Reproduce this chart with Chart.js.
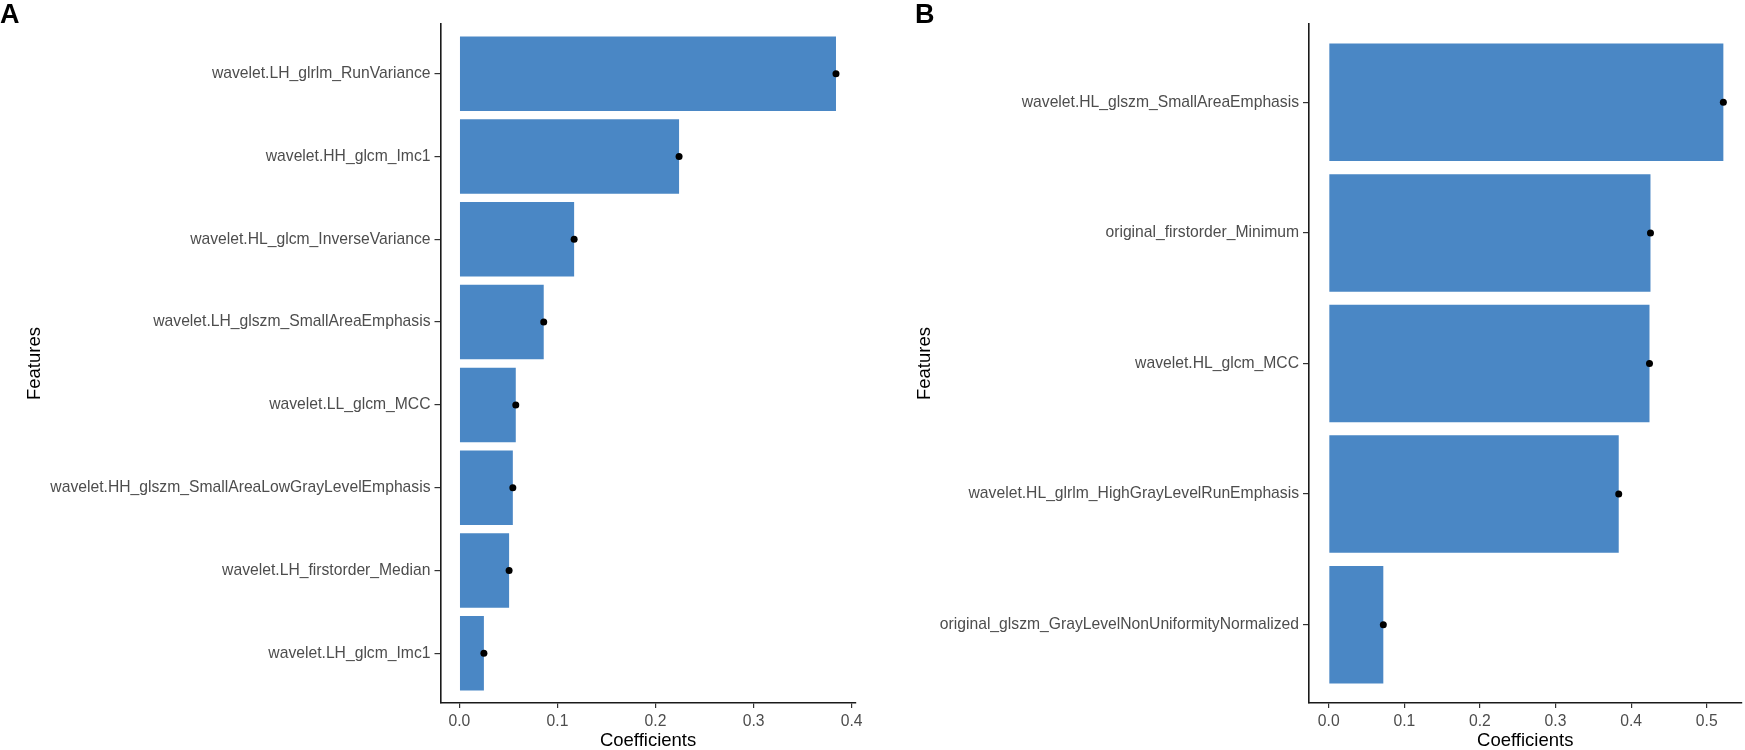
<!DOCTYPE html>
<html>
<head>
<meta charset="utf-8">
<script src="https://cdn.jsdelivr.net/npm/chart.js@4.4.1/dist/chart.umd.min.js"></script>
<style>
  html, body { margin: 0; padding: 0; background: #fff; overflow: hidden; }
  .painel { position: absolute; top: 0; }
  .letra {
    position: absolute;
    top: 1px;
    font: bold 27px "Liberation Sans", Arial, sans-serif;
    line-height: 1;
    color: #000;
  }
</style>
</head>
<body>
<canvas id="grafico-a" class="painel" width="880" height="750" style="left:0px"></canvas>
<canvas id="grafico-b" class="painel" width="855" height="750" style="left:890px"></canvas>
<div class="letra" style="left:0px">A</div>
<div class="letra" style="left:915px">B</div>
<script>
// Two panels of LASSO-style coefficients: bar + black point at the same value.

const FONTE = '"Liberation Sans", Arial, sans-serif';
const COR_BARRA = "#4A87C5";
const COR_TEXTO_EIXO = "#4D4D4D";

// ============================================================
// PAINEL A
// ============================================================
const featuresA = [
  "wavelet.LH_glrlm_RunVariance",
  "wavelet.HH_glcm_Imc1",
  "wavelet.HL_glcm_InverseVariance",
  "wavelet.LH_glszm_SmallAreaEmphasis",
  "wavelet.LL_glcm_MCC",
  "wavelet.HH_glszm_SmallAreaLowGrayLevelEmphasis",
  "wavelet.LH_firstorder_Median",
  "wavelet.LH_glcm_Imc1",
];
const coefA = [0.384, 0.224, 0.117, 0.086, 0.0575, 0.0545, 0.0507, 0.025];
const ticksA = [0, 0.1, 0.2, 0.3, 0.4];
const limitesA = [-0.01925, 0.404];

// ============================================================
// PAINEL B
// ============================================================
const featuresB = [
  "wavelet.HL_glszm_SmallAreaEmphasis",
  "original_firstorder_Minimum",
  "wavelet.HL_glcm_MCC",
  "wavelet.HL_glrlm_HighGrayLevelRunEmphasis",
  "original_glszm_GrayLevelNonUniformityNormalized",
];
const coefB = [0.522, 0.4256, 0.4243, 0.3836, 0.0722];
const ticksB = [0, 0.1, 0.2, 0.3, 0.4, 0.5];
const limitesB = [-0.0261, 0.546];

desenharPainel("grafico-a", featuresA, coefA, ticksA, limitesA, 440.5, 24.4);
desenharPainel("grafico-b", featuresB, coefB, ticksB, limitesB, 419, 0);

// ============================================================
// HELPER
// ============================================================
function desenharPainel(canvasId, features, coefs, ticksX, limitesX, larguraEixoY, paddingDireita) {
  const canvas = document.getElementById(canvasId);
  if (!canvas || typeof Chart === "undefined") return;

  const n = features.length;
  // the index axis is linear so the category padding can be 0.6 like ggplot
  const pontos = coefs.map((c, i) => ({ x: c, y: i }));
  const barras = coefs.map((c, i) => ({ x: c, y: i }));

  // bar charts turn offset on by default, which shifts ticks and grid
  const grade = (tamanho) => ({
    display: true,
    offset: false,
    drawOnChartArea: false,
    drawTicks: true,
    tickLength: tamanho,
    color: "#333",
    lineWidth: 1.2,
  });
  const borda = { display: true, color: "#1a1a1a", width: 1.6 };
  const fonteTick = { family: FONTE, size: 15.7 };

  new Chart(canvas, {
    type: "bar",
    data: {
      datasets: [
        { type: "scatter", data: pontos, pointRadius: 3.5, pointHoverRadius: 3.5, backgroundColor: "#000", borderWidth: 0, order: 0 },
        { type: "bar", indexAxis: "y", data: barras, backgroundColor: COR_BARRA, borderWidth: 0, categoryPercentage: 0.9, barPercentage: 1, order: 1 },
      ],
    },
    options: {
      responsive: false,
      animation: false,
      events: [],
      layout: { padding: { top: 24, right: paddingDireita, bottom: 0, left: 0 } },
      plugins: { legend: { display: false }, tooltip: { enabled: false } },
      scales: {
        x: {
          type: "linear",
          offset: false,
          min: limitesX[0],
          max: limitesX[1],
          afterBuildTicks: (s) => { s.ticks = ticksX.map((v) => ({ value: v })); },
          afterFit: (s) => { s.height = 47; },
          ticks: { callback: (v) => Number(v).toFixed(1), font: fonteTick, color: COR_TEXTO_EIXO, padding: 4, maxRotation: 0, autoSkip: false },
          grid: grade(5),
          border: borda,
          title: { display: true, text: "Coefficients", font: { family: FONTE, size: 18.5, lineHeight: 1 }, color: "#000", padding: 0 },
        },
        y: {
          type: "linear",
          offset: false,
          reverse: true,
          min: -0.6,
          max: n - 0.4,
          afterBuildTicks: (s) => { s.ticks = features.map((_, i) => ({ value: i })); },
          afterFit: (s) => { s.width = larguraEixoY; },
          ticks: { callback: (v) => features[v], font: fonteTick, color: COR_TEXTO_EIXO, padding: 4, autoSkip: false },
          grid: grade(6),
          border: borda,
          title: { display: true, text: "Features", font: { family: FONTE, size: 18.5 }, color: "#000", padding: { top: 24, bottom: 0 } },
        },
      },
    },
  });
}
</script>
</body>
</html>
